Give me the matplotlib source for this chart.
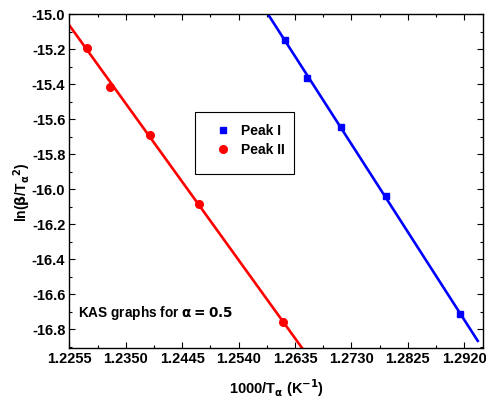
import numpy as np
import matplotlib
matplotlib.use("Agg")
import matplotlib.pyplot as plt
from matplotlib.ticker import MultipleLocator, FixedLocator
from matplotlib.patches import Rectangle

plt.rcParams['font.family'] = ['Liberation Sans', 'DejaVu Sans']
plt.rcParams['font.weight'] = 'bold'
plt.rcParams['mathtext.default'] = 'bf'

# 1000/T_alpha (K^-1) and ln(beta/T_alpha^2) at alpha = 0.5
peak1_x = [1.2619, 1.2655, 1.2712, 1.2788, 1.2913]
peak1_y = [-15.146, -15.361, -15.643, -16.037, -16.711]
peak2_x = [1.2285, 1.2324, 1.2390, 1.2474, 1.2614]
peak2_y = [-15.193, -15.413, -15.689, -16.083, -16.757]

x_ticks = [1.2255, 1.2350, 1.2445, 1.2540, 1.2635, 1.2730, 1.2825, 1.2920]
x_tick_labels = ["1.2255", "1.2350", "1.2445", "1.2540", "1.2635", "1.2730", "1.2825", "1.2920"]
y_ticks = [-16.8, -16.6, -16.4, -16.2, -16.0, -15.8, -15.6, -15.4, -15.2, -15.0]

fig = plt.figure(figsize=(4.86, 4.0), dpi=100)
ax = fig.add_axes([0.143, 0.13, 0.851, 0.834])

# linear (KAS) fits
fit_x = np.linspace(1.2255, 1.2943, 200)
p1 = np.polyfit(peak1_x, peak1_y, 1)
p2 = np.polyfit(peak2_x, peak2_y, 1)
ax.plot(fit_x, np.polyval(p1, fit_x), color='#0000ff', lw=1.9, zorder=2)
ax.plot(fit_x, np.polyval(p2, fit_x), color='#ff0000', lw=1.9, zorder=2)

ax.plot(peak1_x, peak1_y, 's', color='#0000ff', ms=5.0, ls='none', label='Peak I', zorder=3)
ax.plot(peak2_x, peak2_y, 'o', color='#ff0000', ms=5.5, ls='none', label='Peak II', zorder=3)

ax.set_xlim(1.2255, 1.2952)
ax.set_ylim(-16.906, -15.0)
ax.xaxis.set_major_locator(FixedLocator(x_ticks))
ax.set_xticklabels(x_tick_labels)
ax.xaxis.set_minor_locator(MultipleLocator(0.00475))
ax.yaxis.set_major_locator(FixedLocator(y_ticks))
ax.set_yticklabels([f"{v:.1f}" for v in y_ticks])
ax.yaxis.set_minor_locator(MultipleLocator(0.1))

ax.tick_params(which='both', direction='in', top=True, right=True,
               labelsize=10.5, width=0.8, pad=3)
ax.tick_params(which='major', length=4)
ax.tick_params(which='minor', length=2.5)
for lab in ax.get_xticklabels() + ax.get_yticklabels():
    lab.set_fontweight('bold')
for s in ax.spines.values():
    s.set_linewidth(1.0)

ax.set_xlabel(r'1000/T$_{\mathbf{\alpha}}$ (K$^{\mathbf{-1}}$)', fontsize=10.5, fontweight='bold', labelpad=8)
ax.set_ylabel(r'ln($\mathbf{\beta}$/T$_{\mathbf{\alpha}}$$^{\mathbf{2}}$)', fontsize=10, fontweight='bold')
ax.yaxis.set_label_coords(-0.088, 0.468)

ax.text(1.2270, -16.73, r'KAS graphs for $\mathbf{\alpha = 0.5}$', fontsize=9.8, fontweight='bold')

# legend box with markers and labels
box = Rectangle((0.303, 0.523), 0.241, 0.183, transform=ax.transAxes,
                facecolor='white', edgecolor='black', lw=0.8, zorder=4)
ax.add_patch(box)
leg = ax.legend(loc='upper left', bbox_to_anchor=(0.325, 0.71), frameon=False,
                fontsize=10, handletextpad=0.8, borderpad=0.4,
                handlelength=1.0, labelspacing=0.35)
leg.set_zorder(5)
for t in leg.get_texts():
    t.set_fontweight('bold')

fig.savefig('out.png', dpi=100)
